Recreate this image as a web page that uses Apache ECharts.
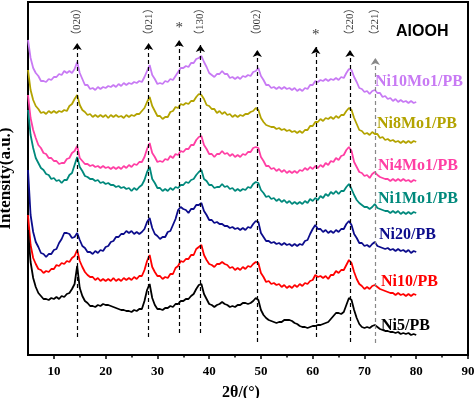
<!DOCTYPE html>
<html>
<head>
<meta charset="utf-8">
<script src="https://cdn.jsdelivr.net/npm/echarts@6.0.0/dist/echarts.min.js"></script>
<style>
  html, body { margin: 0; padding: 0; background: #fff; }
  #main { width: 474px; height: 398px; }
</style>
</head>
<body>
<div id="main"></div>
<script>
// 2theta sampled every 0.5 deg, 5..80
var twoTheta = [];
for (var t = 5; t <= 80.001; t += 0.5) twoTheta.push(Math.round(t * 10) / 10);

// intensities (a.u.), offset stacked
var ni10mo1 = [
  315,297,287,282,279,274,274,273,276,275,
  278,278,281,280,284,282,284,282,286,293,
  282,276,270,270,266,267,265,268,266,268,
  267,269,268,270,268,271,269,272,270,272,
  271,273,272,274,273,278,284,290,280,276,
  271,272,271,274,273,276,275,279,283,287,
  287,289,288,292,292,296,297,299,293,288,
  282,280,278,281,281,284,281,281,277,278,
  276,278,276,279,278,280,279,283,284,287,
  279,275,270,270,267,268,266,268,266,268,
  266,267,265,267,264,266,264,267,266,270,
  270,274,273,275,274,276,274,276,275,277,
  275,278,277,282,286,285,278,273,267,266,
  263,264,261,264,265,262,262,258,259,256,
  257,254,256,253,255,253,254,252,254,252,
  253
];
var ni8mo1 = [
  285,265,255,249,246,242,243,241,244,242,
  244,242,244,243,245,244,249,251,256,260,
  250,245,243,240,241,238,240,238,240,238,
  240,237,240,238,240,238,239,237,240,238,
  240,239,241,241,244,247,253,258,249,244,
  239,239,236,238,238,243,244,248,247,251,
  250,252,251,254,254,258,261,260,256,250,
  249,246,246,242,244,241,243,240,241,238,
  240,238,240,239,241,241,243,244,247,245,
  237,233,230,229,228,228,226,227,225,226,
  224,225,223,224,222,224,222,225,225,229,
  229,233,233,236,234,237,236,238,236,239,
  237,240,240,244,247,245,237,231,225,224,
  221,222,220,223,221,221,217,218,215,216,
  214,215,213,214,212,214,212,214,212,214,
  213
];
var ni4mo1 = [
  260,237,225,217,210,207,202,201,197,197,
  194,194,191,192,192,196,197,202,204,209,
  197,194,191,191,189,190,188,189,187,189,
  187,188,186,188,186,188,186,189,187,190,
  188,191,190,193,193,198,206,212,202,198,
  193,194,193,196,195,199,197,201,200,204,
  203,206,206,210,210,215,218,219,210,206,
  201,201,198,201,201,204,201,202,199,201,
  198,200,198,201,200,203,203,207,208,207,
  198,194,189,189,186,187,184,186,183,185,
  182,184,182,184,182,185,184,187,185,188,
  186,189,187,190,188,192,190,194,193,197,
  195,199,200,205,208,204,193,188,183,182,
  179,180,177,181,183,180,178,177,176,176,
  174,176,174,176,174,176,174,175,173,175,
  174
];
var ni1mo1 = [
  245,220,207,197,192,187,185,181,180,176,
  177,174,175,172,175,175,180,182,190,198,
  188,184,179,178,176,176,174,175,172,173,
  171,172,170,170,168,169,167,168,166,167,
  164,167,165,168,170,175,183,188,176,172,
  167,167,164,166,164,167,165,168,167,170,
  170,173,172,175,176,180,183,185,176,174,
  170,170,167,168,168,171,168,169,166,167,
  164,166,164,166,165,168,167,171,173,172,
  165,162,158,159,156,157,154,156,153,155,
  152,154,151,153,151,153,151,154,152,156,
  154,157,155,159,157,161,159,163,161,164,
  161,164,164,168,171,166,160,155,152,150,
  148,148,146,148,151,147,146,145,144,144,
  142,144,142,144,141,143,141,143,141,143,
  142
];
var ni20 = [
  185,140,123,113,108,102,101,98,101,101,
  105,106,112,116,122,122,121,117,118,122,
  115,109,107,103,103,101,104,102,105,104,
  108,109,113,114,118,118,121,121,124,122,
  124,121,123,121,123,126,133,137,127,121,
  119,116,118,118,123,124,130,136,145,148,
  146,145,142,146,146,150,150,152,144,140,
  135,135,132,133,131,131,129,129,127,128,
  126,127,125,127,125,128,127,131,134,133,
  122,118,114,114,112,113,111,112,110,112,
  110,111,109,111,109,111,110,114,115,121,
  126,130,126,126,123,125,122,124,122,125,
  123,126,126,131,134,130,121,117,112,112,
  109,110,108,111,113,109,108,107,106,107,
  105,106,104,106,104,105,103,105,102,104,
  103
];
var ni10 = [
  140,110,97,91,86,85,82,84,83,86,
  86,90,89,92,91,94,93,97,99,105,
  94,88,83,80,78,78,75,77,74,76,
  74,76,74,77,74,76,74,77,75,77,
  75,78,76,79,79,85,94,100,88,83,
  79,79,76,78,77,81,81,87,89,94,
  93,96,96,100,100,106,108,110,100,95,
  91,90,88,91,91,93,91,90,87,88,
  85,87,85,88,86,89,88,91,93,92,
  82,78,73,74,71,72,70,71,68,70,
  67,69,67,70,68,71,69,72,71,74,
  75,80,78,79,77,79,76,80,80,84,
  82,85,85,90,95,92,83,76,71,69,
  66,68,66,69,70,68,66,65,64,63,
  62,62,60,62,60,61,59,61,59,61,
  60
];
var ni5 = [
  125,93,77,68,62,59,56,56,55,57,
  56,58,56,59,58,61,62,66,71,89,
  67,59,54,52,49,49,48,50,49,51,
  50,50,49,48,47,46,45,45,44,44,
  43,45,44,46,46,54,65,71,57,50,
  46,46,45,47,47,49,48,51,51,54,
  54,56,56,59,61,66,70,71,61,56,
  51,50,48,50,51,53,51,50,48,49,
  48,50,50,52,52,51,52,54,57,55,
  45,40,37,35,34,33,32,33,33,35,
  35,35,34,32,31,29,28,28,27,28,
  29,29,30,30,31,32,33,36,39,42,
  42,41,43,50,57,55,45,37,31,28,
  27,28,27,29,30,28,26,25,24,24,
  23,23,22,23,21,22,21,22,20,21,
  20
];

var sampleNames = ['Ni10Mo1/PB', 'Ni8Mo1/PB', 'Ni4Mo1/PB', 'Ni1Mo1/PB', 'Ni20/PB', 'Ni10/PB', 'Ni5/PB'];
var sampleData = [ni10mo1, ni8mo1, ni4mo1, ni1mo1, ni20, ni10, ni5];

// AlOOH reflections and the two starred peaks
var peakPos = [14.5, 28.3, 34.2, 38.3, 49.3, 60.6, 67.2, 72.1];
var peakTags = ['（020）', '（021）', '*', '（130）', '（002）', '*', '（220）', '（221）'];
var lineBottom = [18, 18, 22, 22, 13, 18, 13, 12];
var lineTop = [312, 312, 315, 310, 305, 308, 305, 297];

var xLabels = [10, 20, 30, 40, 50, 60, 70, 80, 90];
var xMinor = [15, 25, 35, 45, 55, 65, 75, 85];

var colors = ['#c87af4', '#b3a300', '#ff3fa4', '#00897c', '#0c0c8c', '#ff0000', '#000000'];
var nameSpots = [[375, 82], [377, 124], [378, 166], [378, 199], [379, 235], [381, 282], [381, 326]];

var serif = '"Liberation Serif", "Times New Roman", serif';
var tagFont = '"Liberation Serif", "Noto Sans CJK SC", serif';

var chart = echarts.init(document.getElementById('main'));

var series = sampleData.map(function (arr, k) {
  return {
    name: sampleNames[k],
    type: 'line',
    symbol: 'none',
    silent: true,
    lineStyle: { color: colors[k], width: 1.8 },
    data: twoTheta.map(function (t, i) { return [t, arr[i]]; })
  };
});

var tagData = [], starData = [];
peakPos.forEach(function (p, i) {
  if (peakTags[i] === '*') starData.push([p, lineTop[i] + 12]);
  else tagData.push([p, 314, peakTags[i]]);
});

series.push({
  type: 'scatter',
  symbolSize: 0,
  silent: true,
  data: tagData,
  label: {
    show: true,
    formatter: function (p) { return p.value[2]; },
    position: 'top',
    distance: 0,
    rotate: 90,
    align: 'left',
    verticalAlign: 'middle',
    fontFamily: tagFont,
    fontSize: 11,
    color: '#000'
  },
  markLine: {
    silent: true,
    symbol: ['none', 'arrow'],
    symbolSize: 7,
    label: { show: false },
    lineStyle: { color: '#000', type: [4, 3], width: 1.2 },
    data: peakPos.map(function (p, i) {
      var c = i === 7 ? '#888' : '#000';
      return [
        { coord: [p, lineBottom[i]], lineStyle: { color: c }, itemStyle: { color: c } },
        { coord: [p, lineTop[i]] }
      ];
    })
  }
});

series.push({
  type: 'scatter',
  symbolSize: 0,
  silent: true,
  data: starData,
  label: {
    show: true,
    formatter: '*',
    position: 'inside',
    fontFamily: serif,
    fontSize: 15,
    color: '#000'
  }
});

var graphics = sampleNames.map(function (n, k) {
  return {
    type: 'text',
    x: nameSpots[k][0],
    y: nameSpots[k][1],
    style: {
      text: n,
      fill: colors[k],
      font: 'bold 16px ' + serif,
      textVerticalAlign: 'middle'
    }
  };
});
graphics.push({
  type: 'text',
  x: 396,
  y: 32,
  style: { text: 'AlOOH', fill: '#000', font: 'bold 16px "Liberation Sans", Arial, sans-serif', textVerticalAlign: 'middle' }
});

chart.setOption({
  animation: false,
  grid: {
    left: 28, right: 6, top: 2, bottom: 43,
    outerBoundsMode: 'none',
    show: true, borderColor: '#000', borderWidth: 2
  },
  xAxis: [{
    type: 'value',
    min: 5,
    max: 90,
    name: '2θ/(°)',
    nameLocation: 'middle',
    nameGap: 30,
    nameTextStyle: { fontFamily: serif, fontWeight: 'bold', fontSize: 16, color: '#000', padding: [0, 14, 0, 0] },
    axisLine: { lineStyle: { color: '#000', width: 2 } },
    axisTick: { customValues: xLabels, length: 4, lineStyle: { color: '#000', width: 1.5 } },
    axisLabel: { customValues: xLabels, fontFamily: serif, fontWeight: 'bold', fontSize: 13, color: '#000', margin: 10 },
    splitLine: { show: false }
  }, {
    type: 'value',
    min: 5,
    max: 90,
    position: 'bottom',
    axisLine: { show: false },
    axisTick: { customValues: xMinor, length: 2.5, lineStyle: { color: '#000', width: 1.5 } },
    axisLabel: { show: false },
    splitLine: { show: false }
  }],
  yAxis: {
    type: 'value',
    min: 0,
    max: 353,
    name: 'Intensity(a.u.)',
    nameLocation: 'middle',
    nameGap: 14,
    nameTextStyle: { fontFamily: serif, fontWeight: 'bold', fontSize: 17, color: '#000' },
    axisLine: { show: true, lineStyle: { color: '#000', width: 2 } },
    axisTick: { show: false },
    axisLabel: { show: false },
    splitLine: { show: false }
  },
  graphic: graphics,
  series: series
});
</script>
</body>
</html>
